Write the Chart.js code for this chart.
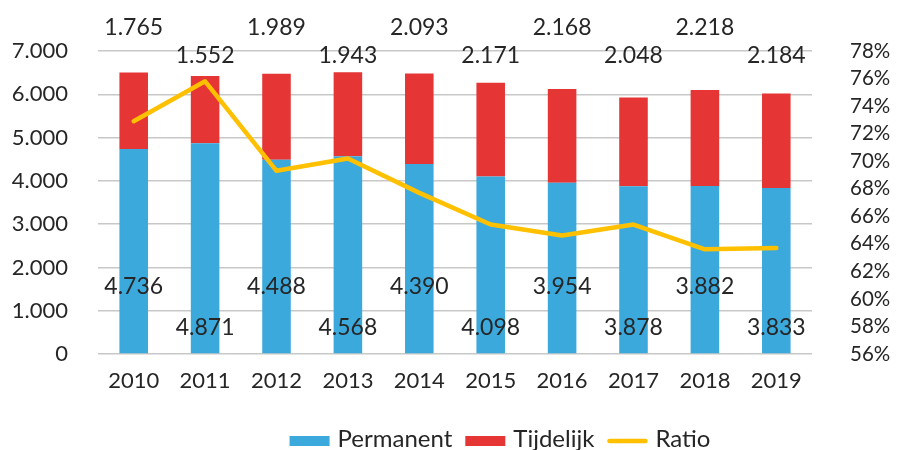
<!DOCTYPE html>
<html>
<head>
<meta charset="utf-8">
<script src="https://cdn.jsdelivr.net/npm/chart.js@4"></script>
<style>
html,body{margin:0;padding:0;background:#fff;}
#wrap{width:897px;height:450px;position:relative;}
</style>
</head>
<body>
<div id="wrap"><canvas id="c" width="897" height="450"></canvas></div>
<script>
const years = ['2010','2011','2012','2013','2014','2015','2016','2017','2018','2019'];
const permanent = [4736, 4871, 4488, 4568, 4390, 4098, 3954, 3878, 3882, 3833];
const tijdelijk = [1765, 1552, 1989, 1943, 2093, 2171, 2168, 2048, 2218, 2184];
const ratio = [72.9, 75.8, 69.3, 70.2, 67.7, 65.4, 64.6, 65.4, 63.6, 63.7];
const leftTicks = [0, 1000, 2000, 3000, 4000, 5000, 6000, 7000];
const rightTicks = [56, 58, 60, 62, 64, 66, 68, 70, 72, 74, 76, 78];

const FONT = 'Lato, "Open Sans", sans-serif';
const TXT = '#262626';
const fmt = v => String(v).replace(/\B(?=(\d{3})+(?!\d))/g, '.');

const labelPlugin = {
  id: 'stackLabels',
  afterDatasetsDraw(chart, args, opts) {
    const ctx = chart.ctx;
    const y = chart.scales.y;
    ctx.save();
    ctx.font = opts.font;
    ctx.fillStyle = TXT;
    ctx.textAlign = 'center';
    ctx.textBaseline = 'middle';
    [0, 1].forEach(ds => {
      const meta = chart.getDatasetMeta(ds);
      const vals = chart.data.datasets[ds].data;
      const levels = opts.levels[ds];
      meta.data.forEach((bar, i) => {
        const lv = levels[i % 2];
        ctx.fillText(fmt(vals[i]), bar.x, y.getPixelForValue(lv));
      });
    });
    ctx.restore();
  }
};

const legendPlugin = {
  id: 'customLegend',
  afterDraw(chart, args, opts) {
    const ctx = chart.ctx;
    ctx.save();
    ctx.font = opts.font;
    const items = chart.data.datasets.map(ds => ({
      text: ds.label, color: ds.type === 'line' ? ds.borderColor : ds.backgroundColor, line: ds.type === 'line',
      w: ctx.measureText(ds.label).width
    }));
    const total = items.reduce((s, it) => s + opts.boxW + opts.gap + it.w, 0) + opts.spacing * (items.length - 1);
    let x = opts.centerX - total / 2;
    items.forEach(it => {
      if (it.line) {
        ctx.strokeStyle = it.color;
        ctx.lineWidth = 4.5;
        ctx.lineCap = 'round';
        ctx.beginPath();
        ctx.moveTo(x + 2, opts.markY);
        ctx.lineTo(x + opts.boxW - 2, opts.markY);
        ctx.stroke();
      } else {
        ctx.fillStyle = it.color;
        ctx.fillRect(x, opts.markY - 5, opts.boxW, 10);
      }
      x += opts.boxW + opts.gap;
      ctx.fillStyle = TXT;
      ctx.textBaseline = 'alphabetic';
      ctx.textAlign = 'left';
      ctx.fillText(it.text, x, opts.baseY);
      x += it.w + opts.spacing;
    });
    ctx.restore();
  }
};

new Chart(document.getElementById('c'), {
  data: {
    labels: years,
    datasets: [
      { type: 'bar', label: 'Permanent', data: permanent, backgroundColor: '#3BA9DC', yAxisID: 'y', order: 2,
        categoryPercentage: 0.8, barPercentage: 0.5 },
      { type: 'bar', label: 'Tijdelijk', data: tijdelijk, backgroundColor: '#E53535', yAxisID: 'y', order: 2,
        categoryPercentage: 0.8, barPercentage: 0.5 },
      { type: 'line', label: 'Ratio', data: ratio, borderColor: '#FFC000', backgroundColor: '#FFC000', borderWidth: 4.5,
        pointRadius: 0, tension: 0, yAxisID: 'y2', order: 0, borderCapStyle: 'round', borderJoinStyle: 'round' }
    ]
  },
  options: {
    responsive: false,
    animation: false,
    layout: { padding: { top: 51, left: 0, right: 0, bottom: 56 } },
    scales: {
      x: {
        stacked: true,
        grid: { display: false, drawTicks: false },
        border: { display: false },
        ticks: { color: TXT, font: { family: FONT, size: 22 }, padding: 14 },
        afterFit: s => { s.height = 40; }
      },
      y: {
        stacked: true,
        position: 'left',
        min: 0, max: 7000,
        afterBuildTicks: s => { s.ticks = leftTicks.map(v => ({ value: v })); },
        grid: { color: '#C8C8C8', lineWidth: 1.5, drawTicks: false },
        border: { display: false },
        ticks: { color: TXT, font: { family: FONT, size: 22 }, padding: 30, autoSkip: false, callback: v => fmt(v) },
        afterFit: s => { s.width = 98; }
      },
      y2: {
        position: 'right',
        min: 56, max: 78,
        afterBuildTicks: s => { s.ticks = rightTicks.map(v => ({ value: v })); },
        grid: { display: false, drawOnChartArea: false, drawTicks: false },
        border: { display: false },
        ticks: { color: TXT, font: { family: FONT, size: 20.5 }, padding: 38, autoSkip: false, callback: v => v + '%' },
        afterFit: s => { s.width = 85; }
      }
    },
    plugins: {
      legend: { display: false },
      tooltip: { enabled: false },
      stackLabels: {
        font: '23px ' + FONT,
        levels: [[1550, 620], [7550, 6900]]
      },
      customLegend: {
        font: '24px ' + FONT,
        centerX: 500, markY: 441, baseY: 447, boxW: 40, gap: 8, spacing: 13
      }
    }
  },
  plugins: [labelPlugin, legendPlugin]
});
</script>
</body>
</html>
